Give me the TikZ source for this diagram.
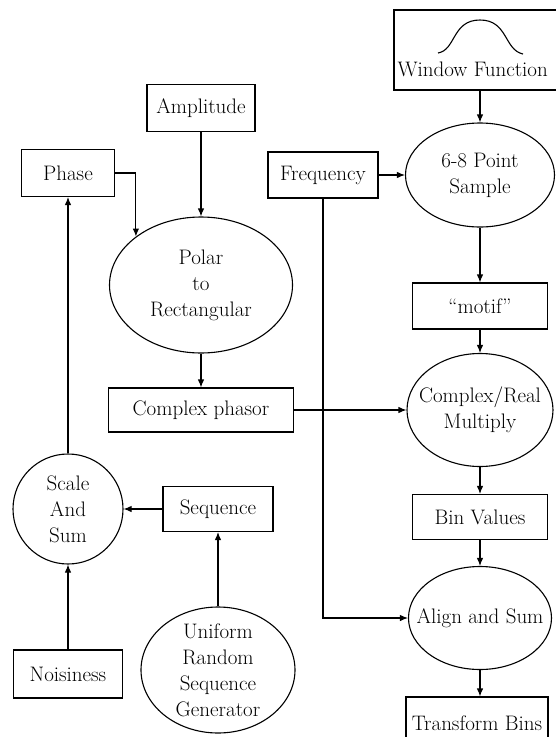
\documentclass[tikz,border=0pt]{standalone}
\usepackage{amsmath,amssymb}
\usetikzlibrary{arrows.meta,shapes.geometric}

\begin{document}
\begin{tikzpicture}[x=1pt,y=-1pt,line width=1.1pt,
  every node/.style={font=\fontsize{21}{26}\selectfont,align=center,inner sep=0pt},
  box/.style={draw,rectangle},
  oval/.style={draw,ellipse},
  link/.style={-{Latex[length=8pt,width=6.5pt]}}]

\useasboundingbox (0,0) rectangle (556,737);
\clip (0,0) rectangle (556,737);

% left column
\node[box,minimum width=93,minimum height=47] (phase) at (68,173) {Phase};
\node[draw,circle,minimum size=110] (scale) at (68,509) {Scale\\And\\Sum};
\node[box,minimum width=109,minimum height=48] (noise) at (68,674) {Noisiness};

% middle column
\node[box,minimum width=108,minimum height=47] (amp) at (201,108) {Amplitude};
\node[oval,minimum width=183,minimum height=136,
  label={center:{Polar\\to\\Rectangular}}] (polar) at (201,285) {};
\node[box,minimum width=185,minimum height=44] (phasor) at (201,410) {Complex phasor};
\node[box,minimum width=110,minimum height=45] (seq) at (218,509) {Sequence};
\node[oval,minimum width=154,minimum height=126,
  label={center:{Uniform\\Random\\Sequence\\Generator}}] (urs) at (218,670) {};
\node[box,minimum width=110,minimum height=46] (freq) at (323,175) {Frequency};

% right column
\node[box,minimum width=170,minimum height=80] (win) at (479,50) {};
\node[anchor=west] (winlabel) at (397,69) {Window Function};
\draw (438,53) .. controls (456,50) and (452,20) .. (480,20)
  .. controls (508,20) and (504,50) .. (523,54);
\node[oval,minimum width=149,minimum height=104,
  label={center:{6-8 Point\\Sample}}] (sample) at (480,175) {};
\node[box,minimum width=135,minimum height=46] (motif) at (480,306) {``motif''};
\node[oval,minimum width=146,minimum height=113,
  label={center:{Complex/Real\\Multiply}}] (cmul) at (480,410) {};
\node[box,minimum width=135,minimum height=45] (bins) at (480,517) {Bin Values};
\node[oval,minimum width=143,minimum height=103,
  label={center:{Align and Sum}}] (align) at (480,618) {};
\node[box,minimum width=142,minimum height=52] (tbins) at (477,723) {Transform Bins};

% connectors
\draw[link] (sample.north |- win.south) -- (sample.north);
\draw[link] (freq.east) -- (sample.west);
\draw[link] (amp.south) -- (polar.north);
\draw[link] (phase.east) -| (polar.north west);
\draw[link] (polar.south) -- (phasor.north);
\draw[link] (phasor.east) -- (cmul.west);
\draw[link] (sample.south) -- (motif.north);
\draw[link] (motif.south) -- (cmul.north);
\draw[link] (cmul.south) -- (bins.north);
\draw[link] (bins.south) -- (align.north);
\draw[link] (align.south) -- (align.south |- tbins.north);
\draw[link] (freq.south) |- (align.west);
\draw[link] (scale.north) -- (phase.south);
\draw[link] (seq.west) -- (scale.east);
\draw[link] (urs.north) -- (seq.south);
\draw[link] (noise.north) -- (scale.south);

\end{tikzpicture}
\end{document}
